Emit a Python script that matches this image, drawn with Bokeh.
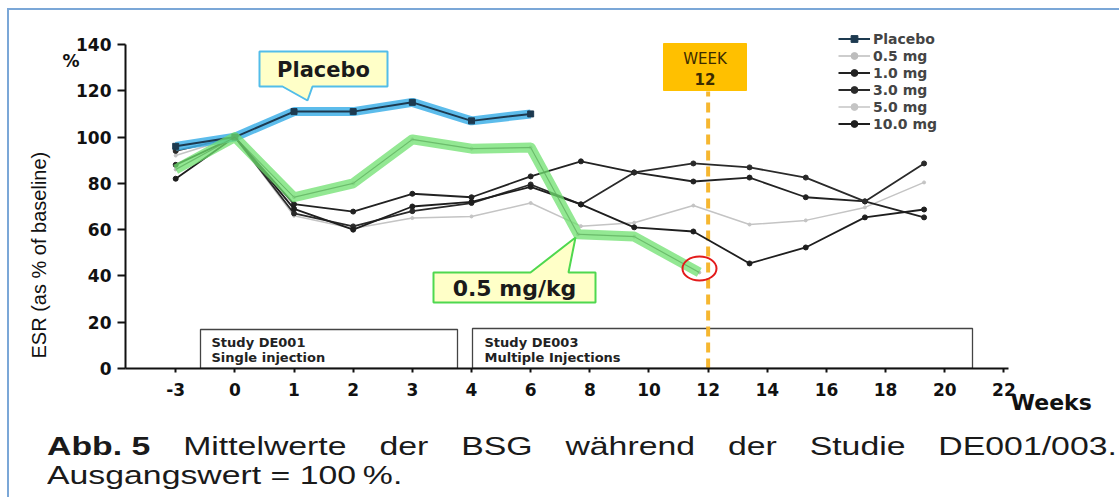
import numpy as np
from bokeh.plotting import figure
from bokeh.models import (Range1d, FixedTicker, Label, Legend, LegendItem,
                          LinearAxis, Title, Div)
from bokeh.layouts import column
from bokeh.embed import file_html
from bokeh.resources import INLINE

# ---------------- data ----------------
tick_weeks = [-3, 0, 1, 2, 3, 4, 6, 8, 10, 12, 14, 16, 18, 20, 22]
tick_labels = [str(w) for w in tick_weeks]
y_ticks = [0, 20, 40, 60, 80, 100, 120, 140]

weeks_placebo = [-3, 0, 1, 2, 3, 4, 6]
placebo = [96, 100, 111, 111, 115, 107, 110]

weeks_05 = [-3, 0, 1, 2, 3, 4, 6, 7.6, 9.5, 11.7]
dose_05 = [86, 100, 74, 80, 99, 95, 95.5, 58, 57, 41.5]

weeks_dose = [-3, 0, 1, 2, 3, 4, 6, 7.7, 9.5, 11.5, 13.4, 15.3, 17.3, 19.3]
dose_10 = [88, 100, 71, 67.8, 75.5, 74, 83, 89.5, 84.7, 80.8, 82.5, 74, 72.2, 65.3]
dose_30 = [94, 100, 67, 61.4, 68, 71.5, 79.5, 70.9, 84.7, 88.6, 86.9, 82.5, 72.2, 88.6]
dose_50 = [92, 100, 66, 60.5, 65, 65.7, 71.5, 61.5, 63, 70.4, 62.2, 64, 69.6, 80.4]
dose_100 = [82, 100, 69, 60, 70, 72, 78.5, 70.9, 61, 59.2, 45.4, 52.3, 65.3, 68.7]

week_marker = 12

caption_line1 = ["Mittelwerte", "der", "BSG", "während", "der", "Studie",
                 "DE001/003."]
caption_line2 = "Ausgangswert = 100\u2009%."


def pos(w):
    return np.interp(w, tick_weeks, np.arange(len(tick_weeks)))


# pixel helpers for annotation placement (reference-image pixels -> data)
X0, DX = 175.2, 59.16
YB, DY = 368.0, 324.0 / 140.0


def X(px):
    return (px - X0) / DX


def Y(py):
    return (YB - py) / DY


p = figure(frame_width=980, frame_height=343,
           min_border_left=116, min_border_right=6,
           min_border_top=15, min_border_bottom=52,
           x_range=Range1d(X(125), X(1105)), y_range=Range1d(0, Y(25)),
           output_backend="svg", toolbar_location=None,
           background_fill_color="white", border_fill_color="white")
p.outline_line_color = None
p.grid.visible = False

# axes
p.xaxis.ticker = FixedTicker(ticks=list(range(len(tick_weeks))))
p.xaxis.major_label_overrides = {i: t for i, t in enumerate(tick_labels)}
p.xaxis.bounds = (X(125), 14.08)
p.yaxis.ticker = FixedTicker(ticks=y_ticks)
p.yaxis.bounds = (0, 140)
for ax in (p.xaxis[0], p.yaxis[0]):
    ax.axis_line_width = 2
    ax.axis_line_color = "#111111"
    ax.major_tick_line_width = 2
    ax.major_tick_line_color = "#111111"
    ax.minor_tick_line_color = None
    ax.major_label_text_font = "DejaVu Sans"
    ax.major_label_text_font_style = "bold"
    ax.major_label_text_font_size = "17px"
    ax.major_label_text_color = "#111111"
p.xaxis.major_tick_out = 4
p.xaxis.major_tick_in = 0
p.xaxis.major_label_standoff = 10
p.yaxis.major_tick_out = 8
p.yaxis.major_tick_in = 0
p.yaxis.major_label_standoff = 6

# "%" unit label (second left axis, one tick)
pct_axis = LinearAxis(ticker=FixedTicker(ticks=[133]),
                      major_label_overrides={133: "%"},
                      axis_line_color=None, major_tick_line_color=None,
                      minor_tick_line_color=None, major_tick_out=0,
                      major_tick_in=0, major_label_standoff=-6,
                      major_label_text_font="DejaVu Sans",
                      major_label_text_font_style="bold",
                      major_label_text_font_size="17px",
                      major_label_text_color="#111111")
p.add_layout(pct_axis, "left")

# y-axis title
p.add_layout(Title(text="ESR (as % of baseline)", align="left", offset=10,
                   vertical_align="middle", standoff=17,
                   text_font="Liberation Sans", text_font_style="normal",
                   text_font_size="20px", text_color="#111111"), "left")

# "Weeks" label (second bottom axis, one tick)
wk_axis = LinearAxis(ticker=FixedTicker(ticks=[14.8]),
                     major_label_overrides={14.8: "Weeks"},
                     axis_line_color=None, major_tick_line_color=None,
                     minor_tick_line_color=None, major_tick_out=0,
                     major_tick_in=0, major_label_standoff=-9,
                     major_label_text_font="DejaVu Sans",
                     major_label_text_font_style="bold",
                     major_label_text_font_size="22px",
                     major_label_text_color="#111111")
p.add_layout(wk_axis, "below")

# study boxes
p.quad(left=X(200), right=X(457), bottom=Y(368), top=Y(329),
       fill_color="white", line_color="#444444", line_width=1.3)
p.quad(left=X(472), right=X(972), bottom=Y(368), top=Y(328),
       fill_color="white", line_color="#444444", line_width=1.3)
for tx, ty, t in [(211, 342, "Study DE001"), (211, 357, "Single injection"),
                  (484, 342, "Study DE003"), (484, 357, "Multiple Injections")]:
    p.add_layout(Label(x=X(tx), y=Y(ty), text=t, text_font="DejaVu Sans",
                       text_font_style="bold", text_font_size="13px",
                       text_color="#222222", text_baseline="middle"))

# week-12 dashed marker
p.segment(x0=pos(week_marker), y0=0, x1=pos(week_marker), y1=Y(91),
          line_color="#f6b730", line_width=4, line_dash="10 6")

# series
xd = pos(weeks_dose)
r50l = p.line(xd, dose_50, line_color="#c4c4c4", line_width=1.5)
r50s = p.scatter(xd, dose_50, size=3, color="#c4c4c4")
x05 = pos(weeks_05)
r05l = p.line(x05, dose_05, line_color="#bdbdbd", line_width=1.5)
r05s = p.scatter(x05, dose_05, size=3, color="#bdbdbd")
r10l = p.line(xd, dose_10, line_color="#222222", line_width=1.8)
r10s = p.scatter(xd, dose_10, size=5, color="#222222")
r30l = p.line(xd, dose_30, line_color="#2a2a2a", line_width=1.8)
r30s = p.scatter(xd, dose_30, size=5, color="#2a2a2a")
r100l = p.line(xd, dose_100, line_color="#1e1e1e", line_width=1.8)
r100s = p.scatter(xd, dose_100, size=5, color="#1e1e1e")

xp = pos(weeks_placebo)
p.line(xp, placebo, line_color="#3fb0e8", line_width=9, line_alpha=0.85)
rpl = p.line(xp, placebo, line_color="#1d3a50", line_width=2)
rps = p.scatter(xp, placebo, marker="square", size=6, color="#1d3a50")

# 0.5 mg highlight
p.line(x05, dose_05, line_color="#6fe06f", line_width=10, line_alpha=0.75,
       line_join="round")
p.line(x05, dose_05, line_color="#5aa85a", line_width=1, line_alpha=0.6)

# red circle at week 12
p.ellipse(x=X(699), y=Y(268), width=34, height=24, width_units="screen",
          height_units="screen", fill_color=None, line_color="#e31b1b",
          line_width=2)

# Placebo callout
pxs = [259, 387, 387, 312, 307, 282, 259]
pys = [51, 51, 86, 86, 100, 86, 86]
p.patch([X(v) for v in pxs], [Y(v) for v in pys], fill_color="#ffffc8",
        line_color="#52bde9", line_width=2)
p.add_layout(Label(x=X(323), y=Y(69), text="Placebo", text_font="DejaVu Sans",
                   text_font_style="bold", text_font_size="21px",
                   text_color="#1a1a1a", text_align="center",
                   text_baseline="middle"))

# 0.5 mg/kg callout
gxs = [433, 530, 575, 568, 595, 595, 433]
gys = [272, 272, 237, 272, 272, 302, 302]
p.patch([X(v) for v in gxs], [Y(v) for v in gys], fill_color="#ffffc8",
        line_color="#4fd84f", line_width=2)
p.add_layout(Label(x=X(514), y=Y(288), text="0.5 mg/kg", text_font="DejaVu Sans",
                   text_font_style="bold", text_font_size="22px",
                   text_color="#1a1a1a", text_align="center",
                   text_baseline="middle"))

# WEEK 12 box
p.quad(left=X(663), right=X(746), bottom=Y(90), top=Y(43),
       fill_color="#ffc000", line_color="#ffc000")
p.add_layout(Label(x=X(704.5), y=Y(58), text="WEEK", text_font="DejaVu Sans",
                   text_font_size="15px", text_color="#3b2b00",
                   text_align="center", text_baseline="middle"))
p.add_layout(Label(x=X(704.5), y=Y(78), text="12", text_font="DejaVu Sans",
                   text_font_style="bold", text_font_size="15px",
                   text_color="#3b2b00", text_align="center",
                   text_baseline="middle"))

# legend
legend = Legend(items=[
    LegendItem(label="Placebo", renderers=[rpl, rps]),
    LegendItem(label="0.5 mg", renderers=[r05l, r05s]),
    LegendItem(label="1.0 mg", renderers=[r10l, r10s]),
    LegendItem(label="3.0 mg", renderers=[r30l, r30s]),
    LegendItem(label="5.0 mg", renderers=[r50l, r50s]),
    LegendItem(label="10.0 mg", renderers=[r100l, r100s]),
], location=(713, 236), orientation="vertical")
legend.padding = 0
legend.margin = 0
legend.spacing = 0
legend.label_height = 17
legend.glyph_height = 17
legend.glyph_width = 32
legend.label_standoff = 3
legend.label_text_font = "DejaVu Sans"
legend.label_text_font_style = "bold"
legend.label_text_font_size = "14px"
legend.label_text_color = "#444444"
legend.border_line_alpha = 0
legend.background_fill_alpha = 0
p.add_layout(legend, "center")

# caption
words = "".join("<span>%s</span>" % w for w in caption_line1)
cap_html = (
    '<div style="font-family:\'Liberation Sans\'; font-size:26px;'
    ' color:#1a1a1a; padding-top:7px; padding-left:33px; white-space:nowrap;'
    ' line-height:29px;">'
    '<div style="display:flex; justify-content:space-between; width:823px;'
    ' transform:scaleX(1.3); transform-origin:0 0;">'
    '<span><b>Abb.\u00a05</b></span>' + words + '</div>'
    '<div><span style="display:inline-block; transform:scaleX(1.3);'
    ' transform-origin:0 0;">' + caption_line2 + '</span></div></div>'
)
caption = Div(text=cap_html, width=1100, height=68)

layout = column(p, caption, spacing=0)
layout.styles = {"margin-left": "7px", "margin-top": "8px",
                 "border-left": "2px solid #7ba7d7",
                 "border-top": "2px solid #7ba7d7"}

open("out.html", "w").write(file_html(layout, INLINE))
